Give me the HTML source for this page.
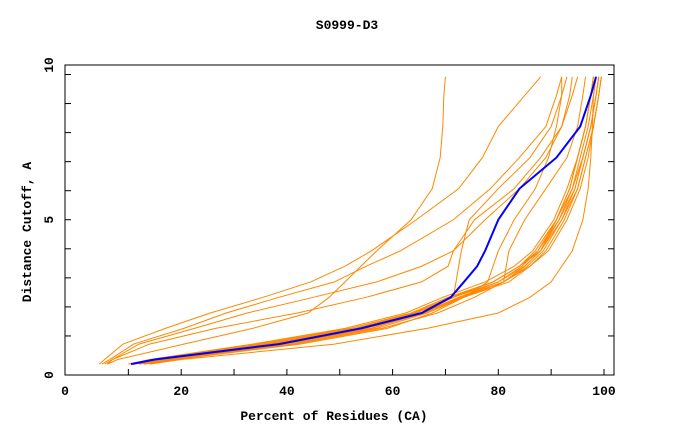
<!DOCTYPE html>
<html><head><meta charset="utf-8"><style>
body{margin:0;background:#fff;}
svg text{font-family:"Liberation Mono",monospace;font-weight:bold;font-size:13px;fill:#000;}
</style></head><body>
<svg id="chart" width="680" height="440" viewBox="0 0 680 440" xmlns="http://www.w3.org/2000/svg">
<rect width="680" height="440" fill="#fff"/>
<text x="347" y="29" text-anchor="middle">S0999-D3</text>
<text x="334" y="420" text-anchor="middle">Percent of Residues (CA)</text>
<text transform="translate(31,232) rotate(-90)" text-anchor="middle">Distance Cutoff, A</text>
<g id="axes"></g>
<g id="series"></g>
<rect x="65" y="65" width="549" height="310" fill="none" stroke="#000" stroke-width="1"/>
</svg>
<script>
const levels=[0.03,0.19,0.72,1.26,1.79,2.33,2.86,3.4,3.93,5,6.07,7.14,8.21,9.28,9.92];
const xTicks=[20,40,60,80,100];
const yTicks=[5,10];
const orangeSeries=[
[12,16,36.5,54,64.5,71.5,80,85,88,91.5,94,95.5,97,98,98.5],
[11,15,34.5,52,63.5,70.5,79,84,87,91,93.5,95,96.5,97.5,98],
[13,17,38.5,56,65.5,72.5,81,85.5,88.5,92,94.5,96,97.5,98.5,99],
[10,14,33.5,51,62.5,69.5,77.5,83,86.5,90.5,93,95,96.5,97.5,98],
[14,18,40.5,57,66.5,73.5,82,86,89,92.5,95,96.5,98,99,99.5],
[12,17,37.5,55,65.5,72.5,80,84.5,87.5,91,94,96,97.5,98.5,99],
[11,16,35.5,53,64.5,71.5,79,84,88,92,95,96.5,98,99,99.5],
[14,19,42.5,59,67.5,73.5,81,86,89.5,93,95.5,97,98,99,99.5],
[13,17,39,56,66,73,81,85,88,91,93.5,95,96.5,97.5,98],
[12,16,36,53,64,71,79,84,87.5,91.5,94.5,96,97.5,98.5,99],
[14,20,49,66.5,80,86,90,92,94,96,97,97.5,97.8,98,98.5],
[12,17,39.5,56,65.5,71.5,72,72.5,73,74.5,80,86,90,92,93],
[13,18,41.5,58,68.5,75.5,81,81.5,82,85,89,93,95,96,96.5],
[11,16,36.5,54,65.5,73.5,78,79,80,83,87,89.5,91,92,92],
[4.5,5.5,9,17,25.5,35.5,44.5,51,56,64.5,72.5,77,80,85,88],
[5,6.5,11,20.5,28.5,38.5,49,55,61.5,71.5,78.5,84,89,91,92],
[6,7,12,22.5,32.5,45,57,65.5,71.5,77.5,84,89,92,93.5,94],
[6,8,20.5,33.5,44,48,51,54,57,63.5,67.5,69,69.5,69.7,70],
[5.5,7,14,26.5,42,55,65.5,70.5,71.5,75.5,83,88,92,94,95]
];
const blueSeries=[10.5,15,38.5,54,65.5,71,73.5,76,77.5,80,84,91,95.5,97.5,98.5];
const NS="http://www.w3.org/2000/svg";
const xs=v=>75.5+5.285*v, ys=v=>365-29.05*v;
const axes=document.getElementById('axes'), sg=document.getElementById('series');
for(let v=10;v<=100;v+=10){const l=document.createElementNS(NS,'line');


l.setAttribute('x1',xs(v));l.setAttribute('x2',xs(v));l.setAttribute('y1',375);l.setAttribute('y2',369);l.setAttribute('stroke','#000');axes.appendChild(l);}
for(let v=1;v<=10;v++){[[65,71],[614,608]].forEach(p=>{const l=document.createElementNS(NS,'line');


l.setAttribute('x1',p[0]);l.setAttribute('x2',p[1]);l.setAttribute('y1',ys(v));l.setAttribute('y2',ys(v));l.setAttribute('stroke','#000');axes.appendChild(l);});}
const x0=document.createElementNS(NS,'text');


x0.setAttribute('x',65);x0.setAttribute('y',395);x0.setAttribute('text-anchor','middle');x0.textContent='0';axes.appendChild(x0);
xTicks.forEach(v=>{const t=document.createElementNS(NS,'text');


t.setAttribute('x',xs(v));t.setAttribute('y',395);t.setAttribute('text-anchor','middle');t.textContent=v;axes.appendChild(t);});
const y0=document.createElementNS(NS,'text');


y0.setAttribute('transform','translate(53,375) rotate(-90)');y0.setAttribute('text-anchor','middle');y0.textContent='0';axes.appendChild(y0);
yTicks.forEach(v=>{const t=document.createElementNS(NS,'text');


t.setAttribute('transform',`translate(53,${v===10?65:ys(v)}) rotate(-90)`);t.setAttribute('text-anchor','middle');t.textContent=v;axes.appendChild(t);});
function draw(arr,color,w,name){const p=document.createElementNS(NS,'polyline');


p.setAttribute('points',arr.map((x,i)=>xs(x)+','+ys(levels[i])).join(' '));
p.setAttribute('fill','none');p.setAttribute('stroke',color);p.setAttribute('stroke-width',w);sg.appendChild(p);}
orangeSeries.forEach(s=>draw(s,'#ff8800',1,'model-line'));
draw(blueSeries,'#0000ff',2,'target-model-line');
</script>
</body></html>
